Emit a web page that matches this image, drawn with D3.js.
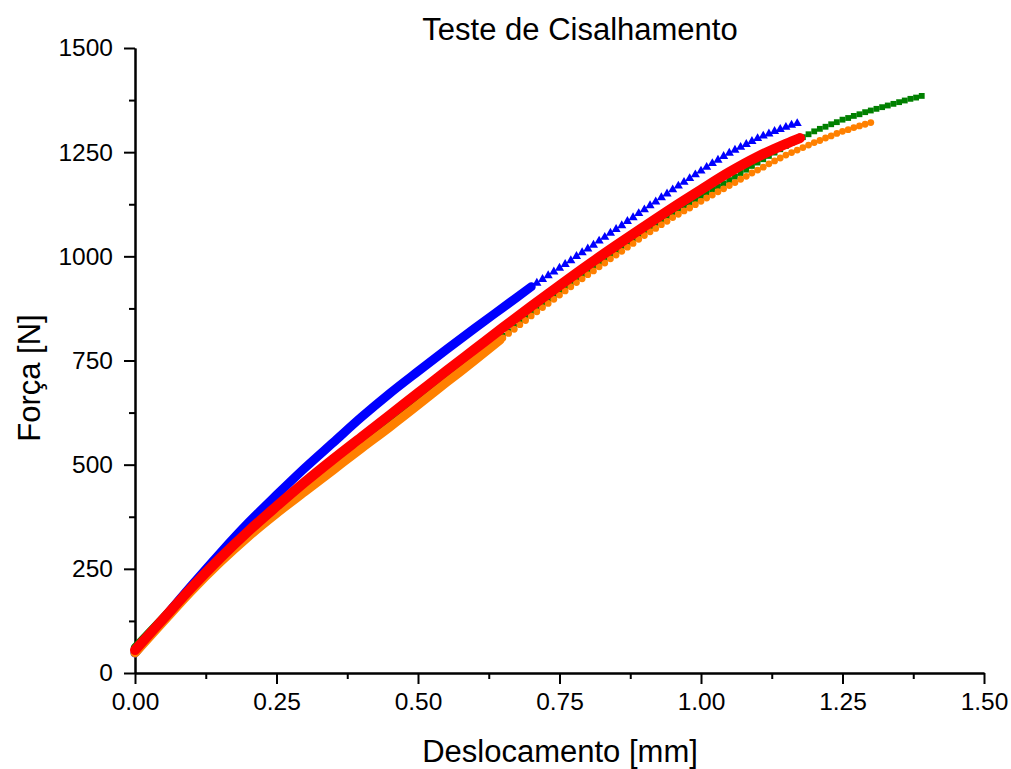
<!DOCTYPE html>
<html>
<head>
<meta charset="utf-8">
<script src="https://cdn.jsdelivr.net/npm/d3@7/dist/d3.min.js"></script>
<style>
  body { margin: 0; background: #fff; }
  svg { display: block; font-family: "Liberation Sans", Arial, sans-serif; }
</style>
</head>
<body>
<svg id="chart" width="1011" height="769"></svg>
<script>
// Shear test curves: [deslocamento mm, força N]
const xTicks = [0, 0.25, 0.5, 0.75, 1.0, 1.25, 1.5];
const yTicks = [0, 250, 500, 750, 1000, 1250, 1500];

// dense segments (markers so close they form a band)
const blueDense = [[0,48],[0.05,130],[0.10,210],[0.15,287],[0.20,360],[0.25,427],[0.30,492],[0.35,553],[0.40,614],[0.45,671],[0.50,724],[0.55,776],[0.60,827],[0.65,877],[0.70,927]];
const greenDense = [[0,62],[0.05,133],[0.10,205],[0.15,273],[0.20,335],[0.25,390],[0.30,443],[0.35,495],[0.40,546],[0.45,597],[0.50,650],[0.55,703],[0.60,756],[0.64,798]];
const orangeDense = [[0,48],[0.05,123],[0.10,197],[0.15,265],[0.20,327],[0.25,383],[0.30,435],[0.35,487],[0.40,539],[0.45,590],[0.50,643],[0.55,697],[0.60,750],[0.645,799]];
const redDense = [[0,55],[0.05,130],[0.10,205],[0.15,275],[0.20,340],[0.25,400],[0.30,458],[0.35,513],[0.40,566],[0.45,619],[0.50,672],[0.55,725],[0.60,777],[0.65,829],[0.70,880],[0.75,930],[0.80,979],[0.85,1026],[0.90,1072],[0.95,1117],[1.00,1160],[1.05,1202],[1.10,1239],[1.15,1270],[1.175,1284]];

// sparse segments (individual markers)
const blueSparse = [[0.71,936],[0.72,945],[0.73,954],[0.74,963],[0.75,972],[0.76,981],[0.77,990],[0.78,1000],[0.79,1009],[0.80,1018],[0.81,1027],[0.82,1037],[0.83,1046],[0.84,1056],[0.85,1065],[0.86,1074],[0.87,1084],[0.88,1093],[0.89,1103],[0.90,1112],[0.91,1122],[0.92,1131],[0.93,1141],[0.94,1150],[0.95,1160],[0.96,1169],[0.97,1178],[0.98,1187],[0.99,1196],[1.00,1205],[1.01,1214],[1.02,1223],[1.03,1231],[1.04,1240],[1.05,1248],[1.06,1255],[1.07,1262],[1.08,1269],[1.09,1276],[1.10,1283],[1.11,1289],[1.12,1294],[1.13,1300],[1.14,1305],[1.15,1310],[1.16,1315],[1.17,1319]];
const greenSparse = [[0.65,809],[0.66,820],[0.67,831],[0.68,842],[0.69,853],[0.70,865],[0.71,875],[0.72,886],[0.73,896],[0.74,907],[0.75,917],[0.76,927],[0.77,937],[0.78,947],[0.79,957],[0.80,967],[0.81,977],[0.82,986],[0.83,996],[0.84,1005],[0.85,1015],[0.86,1025],[0.87,1034],[0.88,1044],[0.89,1053],[0.90,1063],[0.91,1072],[0.92,1080],[0.93,1089],[0.94,1097],[0.95,1106],[0.96,1114],[0.97,1122],[0.98,1129],[0.99,1137],[1.00,1145],[1.01,1153],[1.02,1160],[1.03,1168],[1.04,1175],[1.05,1183],[1.06,1191],[1.07,1200],[1.08,1208],[1.09,1217],[1.10,1225],[1.11,1233],[1.12,1241],[1.13,1249],[1.14,1257],[1.15,1265],[1.16,1272],[1.17,1279],[1.18,1286],[1.19,1293],[1.20,1300],[1.21,1306],[1.22,1311],[1.23,1317],[1.24,1322],[1.25,1328],[1.26,1332],[1.27,1337],[1.28,1341],[1.29,1346],[1.30,1350],[1.31,1354],[1.32,1358],[1.33,1362],[1.34,1366],[1.35,1370],[1.36,1374],[1.37,1378],[1.38,1381],[1.39,1385]];
const orangeSparse = [[0.65,804],[0.66,815],[0.67,825],[0.68,836],[0.69,846],[0.70,857],[0.71,867],[0.72,877],[0.73,887],[0.74,897],[0.75,907],[0.76,917],[0.77,927],[0.78,937],[0.79,946],[0.80,956],[0.81,965],[0.82,975],[0.83,984],[0.84,994],[0.85,1003],[0.86,1012],[0.87,1022],[0.88,1031],[0.89,1041],[0.90,1050],[0.91,1059],[0.92,1067],[0.93,1076],[0.94,1084],[0.95,1093],[0.96,1101],[0.97,1109],[0.98,1116],[0.99,1124],[1.00,1132],[1.01,1140],[1.02,1147],[1.03,1155],[1.04,1162],[1.05,1170],[1.06,1177],[1.07,1185],[1.08,1192],[1.09,1200],[1.10,1207],[1.11,1214],[1.12,1222],[1.13,1229],[1.14,1236],[1.15,1243],[1.16,1249],[1.17,1255],[1.18,1261],[1.19,1267],[1.20,1273],[1.21,1278],[1.22,1284],[1.23,1289],[1.24,1295],[1.25,1300],[1.26,1304],[1.27,1309],[1.28,1313],[1.29,1317],[1.30,1321]];

const svg = d3.select("#chart");

let x = d3.scaleLinear().domain([0, 1.5]).range([135, 984]);
let y = d3.scaleLinear().domain([0, 1500]).range([673, 48]);

// minor ticks halfway between majors
const xMinor = d3.range(0.125, 1.5, 0.25);
const yMinor = d3.range(125, 1500, 250);

function styleAxis(g) {
  g.select(".domain").attr("stroke", "#000").attr("stroke-width", 2);
  g.selectAll(".tick line").attr("stroke", "#000").attr("stroke-width", 2);
  g.selectAll(".tick text").attr("fill", "#000").style("font-size", "24.5px")
    .style("font-family", "'Liberation Sans', Arial, sans-serif");
}

svg.append("g").attr("transform", "translate(0,673)")
  .call(d3.axisBottom(x).tickValues(xMinor).tickFormat("").tickSize(6).tickSizeOuter(0))
  .call(styleAxis);
svg.append("g").attr("transform", "translate(135,0)")
  .call(d3.axisLeft(y).tickValues(yMinor).tickFormat("").tickSize(6).tickSizeOuter(0))
  .call(styleAxis);

svg.append("g").attr("transform", "translate(0,673)")
  .call(d3.axisBottom(x).tickValues(xTicks).tickFormat(d3.format(".2f")).tickSize(11).tickPadding(9).tickSizeOuter(0))
  .call(styleAxis);
svg.append("g").attr("transform", "translate(135,0)")
  .call(d3.axisLeft(y).tickValues(yTicks).tickFormat(d3.format("d")).tickSize(11).tickPadding(11).tickSizeOuter(0))
  .call(styleAxis);

// data
let line = d3.line().x(d => x(d[0])).y(d => y(d[1])).curve(d3.curveMonotoneX);
let plot = svg.append("g");

function band(data, color, w) {
  plot.append("path").datum(data)
    .attr("d", line)
    .attr("fill", "none")
    .attr("stroke", color)
    .attr("stroke-width", w)
    .attr("stroke-linecap", "round")
    .attr("stroke-linejoin", "round");
}

function markers(data, color, type, size) {
  plot.append("g").selectAll("path").data(data).enter().append("path")
    .attr("transform", d => `translate(${x(d[0])},${y(d[1])})`)
    .attr("d", d3.symbol().type(type).size(size))
    .attr("fill", color);
}

band(blueDense, "#0000ff", 9);
markers(blueSparse, "#0000ff", d3.symbolTriangle, 36);
band(greenDense, "#008000", 8);
markers(greenSparse, "#008000", d3.symbolSquare, 34);
band(orangeDense, "#ff8000", 9);
markers(orangeSparse, "#ff8000", d3.symbolCircle, 36);
band(redDense, "#ff0000", 10);

// titles
svg.append("text").attr("x", 580).attr("y", 40).attr("text-anchor", "middle")
  .style("font-size", "31px").text("Teste de Cisalhamento");
svg.append("text").attr("x", 560).attr("y", 762).attr("text-anchor", "middle")
  .style("font-size", "31px").text("Deslocamento [mm]");
svg.append("text").attr("transform", "translate(40,378) rotate(-90)").attr("text-anchor", "middle")
  .style("font-size", "31px").text("Força [N]");
</script>
</body>
</html>
